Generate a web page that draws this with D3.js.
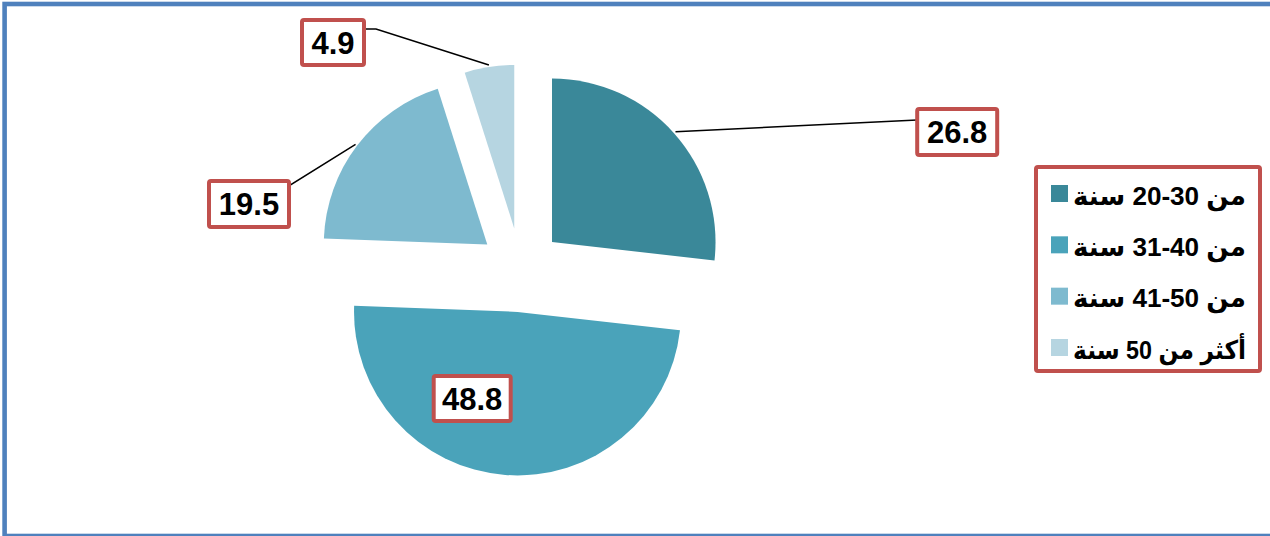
<!DOCTYPE html>
<html><head><meta charset="utf-8">
<script src="https://cdn.jsdelivr.net/npm/d3@7"></script>
<style>body{margin:0;background:#fff}svg{display:block}</style>
</head><body>
<svg id="c" width="1270" height="536"></svg>
<script>
const categories = ["من 20-30 سنة", "من 31-40 سنة", "من 41-50 سنة", "أكثر من 50 سنة"];
const values = [26.8, 48.8, 19.5, 4.9];
const labels = ["26.8", "48.8", "19.5", "4.9"];
const colors = ["#3A8899", "#4AA3BA", "#7EBACF", "#B6D5E1"];

const svg = d3.select("#c");
// frame
svg.append("rect").attr("x", 4.6).attr("y", 4).attr("width", 1290).attr("height", 532)
  .attr("fill", "none").attr("stroke", "#4F81BD").attr("stroke-width", 4.6);

const cx = 520.7, cy = 270, R = 163.5, explode = 42;
const pie = d3.pie().sort(null).value(d => d)(values);
const arc = d3.arc().innerRadius(0).outerRadius(R);
const g = svg.append("g").attr("transform", `translate(${cx},${cy})`);

function offset(d, k) {
  const a = (d.startAngle + d.endAngle) / 2;
  return [Math.sin(a) * k, -Math.cos(a) * k];
}
g.selectAll("path").data(pie).join("path")
  .attr("d", arc)
  .attr("fill", (d, i) => colors[i])
  .attr("transform", d => { const o = offset(d, explode); return `translate(${o[0]},${o[1]})`; });

// label layout: box centre relative to pie centre, box size, leader bend
const labelLayout = [
  {dx: 436.5, dy: -138, w: 80, h: 46, lead: [[-40, -12]]},
  {dx: -48.5, dy: 128.5, w: 77, h: 45, lead: null},
  {dx: -271.7, dy: -66, w: 80, h: 46, lead: [[40, -12], [30, -12]]},
  {dx: -187.7, dy: -227.5, w: 62, h: 45, lead: [[33, -13.5], [43, -13.5]]}
];
pie.forEach((d, i) => {
  const L = labelLayout[i];
  const bx = L.dx, by = L.dy;
  if (L.lead) {
    const o = offset(d, explode);
    const a = (d.startAngle + d.endAngle) / 2;
    const sp = [o[0] + Math.sin(a) * (R + 2), o[1] - Math.cos(a) * (R + 2)];
    const pts = [sp].concat(L.lead.slice().reverse().map(p => [bx + p[0], by + p[1]]));
    g.append("path").attr("d", d3.line()(pts)).attr("fill", "none")
      .attr("stroke", "#000").attr("stroke-width", 1.5);
  }
  g.append("rect").attr("x", bx - L.w / 2).attr("y", by - L.h / 2)
    .attr("width", L.w).attr("height", L.h).attr("rx", 2)
    .attr("fill", "#fff").attr("stroke", "#C0504D").attr("stroke-width", 4);
  g.append("text").attr("x", bx).attr("y", by + 11).attr("text-anchor", "middle")
    .attr("font-family", "Liberation Sans, Arial, sans-serif").attr("font-weight", "bold")
    .attr("font-size", 31).attr("fill", "#000").text(labels[i]);
});

// legend
const lg = svg.append("g");
lg.append("rect").attr("x", 1036).attr("y", 167).attr("width", 224).attr("height", 204)
  .attr("rx", 2).attr("fill", "#fff").attr("stroke", "#C0504D").attr("stroke-width", 4);
const ly = d3.scaleLinear().domain([0, 3]).range([185, 339]);
categories.forEach((c, i) => {
  lg.append("rect").attr("x", 1051).attr("y", ly(i)).attr("width", 17).attr("height", 17)
    .attr("fill", colors[i]);
  const shown = c.replace(/(\d+(?:-\d+)?)/g, "\u2066$1\u2069");
  lg.append("text").attr("x", 1246).attr("y", ly(i) + 19.5)
    .attr("direction", "rtl").attr("text-anchor", "start")
    .attr("textLength", 173).attr("lengthAdjust", "spacingAndGlyphs")
    .attr("font-family", "Liberation Sans, Arial, DejaVu Sans, sans-serif").attr("font-weight", "bold")
    .attr("font-size", 26).attr("fill", "#000").text(shown);
});
</script>
</body></html>
